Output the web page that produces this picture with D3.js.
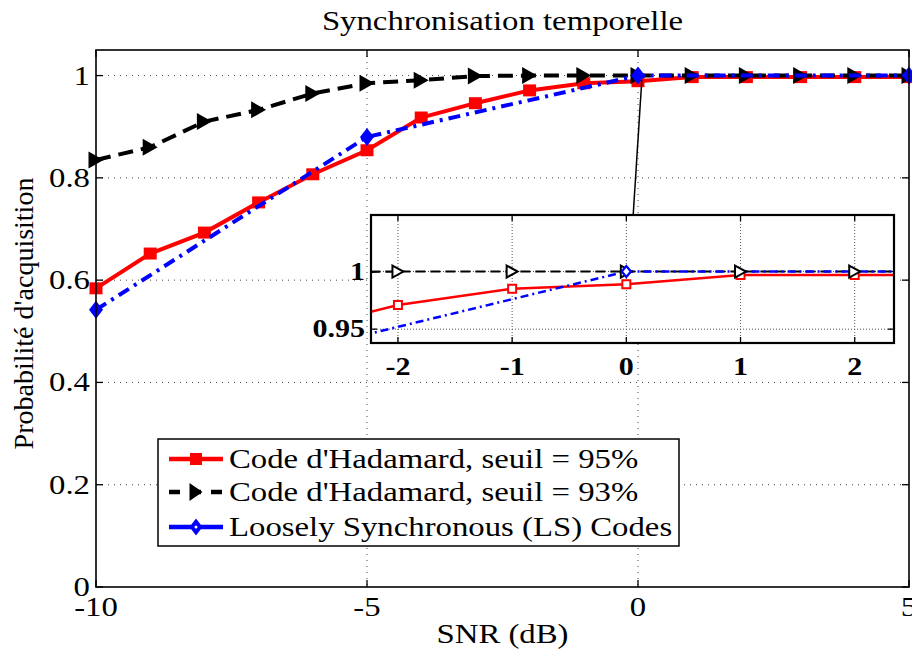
<!DOCTYPE html>
<html><head><meta charset="utf-8">
<script src="https://cdn.jsdelivr.net/npm/d3@7"></script>
<style>
html,body{margin:0;padding:0;background:#fff;}
svg{display:block;}
text{font-family:"Liberation Serif","Times New Roman",serif;fill:#000;}
</style></head>
<body>
<svg id="chart" width="912" height="651"></svg>
<script>
// ---- data ----
const title = "Synchronisation temporelle";
const xLabel = "SNR (dB)";
const yLabel = "Probabilité d'acquisition";
const snr = [-10,-9,-8,-7,-6,-5,-4,-3,-2,-1,0,1,2,3,4,5];
const hadamard95 = [0.584,0.652,0.693,0.752,0.807,0.854,0.918,0.946,0.971,0.985,0.989,0.997,0.997,0.997,0.997,0.997];
const hadamard93 = [0.835,0.860,0.910,0.933,0.965,0.985,0.991,0.999,1,1,1,1,1,1,1,1];
const lsSnr = [-10,-5,0,5];
const lsCodes = [0.542,0.880,1.0,1.0];
const seriesNames = ["Code d'Hadamard, seuil = 95%","Code d'Hadamard, seuil = 93%","Loosely Synchronous (LS) Codes"];
const xTicks = [-10,-5,0,5];
const yTicks = [0,0.2,0.4,0.6,0.8,1];
const insetXTicks = [-2,-1,0,1,2];
const insetYTicks = [0.95,1];
const insetXDomain = [-2.236,2.344];
const insetYDomain = [0.938,1.049];
const connectorMain = [0.07,0.991];   // point in main data coords
const connectorInsetX = 0.06;         // x in inset data coords (top edge)

// ---- layout ----
const svg = d3.select("#chart");
const W = 912, H = 651;
const L = 96, R = 909, T = 50, B = 587;
const x = d3.scaleLinear().domain([-10,5]).range([L,R]);
const y = d3.scaleLinear().domain([0,1.05]).range([B,T]);
const SX = 1.17; // horizontal text stretch
function stretch(sel,k){ sel.each(function(){ const l=this.getComputedTextLength(); d3.select(this).attr("textLength",l*k).attr("lengthAdjust","spacingAndGlyphs");}); }

const cRed="#ff0000", cBlack="#000000", cBlue="#0000ff";

function sqPath(w,h){return `M${-w/2},${-h/2}H${w/2}V${h/2}H${-w/2}Z`;}
function triPath(w,h){return `M${-w/2},${-h/2}L${w/2},0L${-w/2},${h/2}Z`;}
function diaPath(w,h){return `M0,${-h/2}L${w/2},0L0,${h/2}L${-w/2},0Z`;}

svg.append("rect").attr("width",W).attr("height",H).attr("fill","#fff");

// title
svg.append("text").attr("x",(L+R)/2).attr("y",30).attr("text-anchor","middle")
  .attr("font-size",28).text(title).call(stretch,SX);

// grid
const grid = svg.append("g").attr("stroke","#444").attr("stroke-width",1).attr("stroke-dasharray","1,5");
grid.selectAll(".gx").data(xTicks.filter(d=>d>-10&&d<5)).join("line")
  .attr("x1",d=>x(d)).attr("x2",d=>x(d)).attr("y1",T).attr("y2",B);
grid.selectAll(".gy").data(yTicks.filter(d=>d>0)).join("line")
  .attr("x1",L).attr("x2",R).attr("y1",d=>y(d)).attr("y2",d=>y(d));

// ticks (inward, all four sides)
const tk = svg.append("g").attr("stroke","#000").attr("stroke-width",1.3);
xTicks.forEach(d=>{
  tk.append("line").attr("x1",x(d)).attr("x2",x(d)).attr("y1",B).attr("y2",B-7);
  tk.append("line").attr("x1",x(d)).attr("x2",x(d)).attr("y1",T).attr("y2",T+7);
});
yTicks.forEach(d=>{
  tk.append("line").attr("x1",L).attr("x2",L+7).attr("y1",y(d)).attr("y2",y(d));
  tk.append("line").attr("x1",R).attr("x2",R-7).attr("y1",y(d)).attr("y2",y(d));
});

// tick labels
svg.append("g").selectAll("text").data(xTicks).join("text")
  .attr("x",d=>x(d)).attr("y",616).attr("text-anchor","middle").attr("font-size",28)
  .text(d=>d).call(stretch,SX);
svg.append("g").selectAll("text").data(yTicks).join("text")
  .attr("x",90).attr("y",d=>y(d)+9).attr("text-anchor","end").attr("font-size",28)
  .text(d=>d).call(stretch,SX);

// axis labels
svg.append("text").attr("x",(L+R)/2).attr("y",643).attr("text-anchor","middle")
  .attr("font-size",28).text(xLabel).call(stretch,SX);
svg.append("text").attr("transform",`translate(33,${(176+451)/2}) rotate(-90)`)
  .attr("text-anchor","middle").attr("font-size",28).text(yLabel);

// main series
const line = d3.line().x(d=>x(d[0])).y(d=>y(d[1]));
const d95 = snr.map((s,i)=>[s,hadamard95[i]]);
const d93 = snr.map((s,i)=>[s,hadamard93[i]]);
const dLS = lsSnr.map((s,i)=>[s,lsCodes[i]]);

const gm = svg.append("g");
gm.append("path").datum(d95).attr("d",line).attr("fill","none").attr("stroke",cRed).attr("stroke-width",4);
gm.selectAll(".m95").data(d95).join("path").attr("transform",d=>`translate(${x(d[0])},${y(d[1])})`)
  .attr("d",sqPath(13,12)).attr("fill",cRed);
gm.append("path").datum(d93).attr("d",line).attr("fill","none").attr("stroke",cBlack).attr("stroke-width",4).attr("stroke-dasharray","15,8");
gm.selectAll(".m93").data(d93).join("path").attr("transform",d=>`translate(${x(d[0])},${y(d[1])})`)
  .attr("d",triPath(15,17)).attr("fill",cBlack);
gm.append("path").datum(dLS).attr("d",line).attr("fill","none").attr("stroke",cBlue).attr("stroke-width",4).attr("stroke-dasharray","12,6,3,6");
gm.selectAll(".mls").data(dLS).join("path").attr("transform",d=>`translate(${x(d[0])},${y(d[1])})`)
  .attr("d",diaPath(14,18)).attr("fill",cBlue);

// frame
svg.append("rect").attr("x",L).attr("y",T).attr("width",R-L).attr("height",B-T)
  .attr("fill","none").attr("stroke","#000").attr("stroke-width",1.6);

// ---- inset ----
const iL=371, iR=894, iT=215, iB=343;
const xi = d3.scaleLinear().domain(insetXDomain).range([iL,iR]);
const yi = d3.scaleLinear().domain(insetYDomain).range([iB,iT]);
const ins = svg.append("g");
ins.append("rect").attr("x",iL).attr("y",iT).attr("width",iR-iL).attr("height",iB-iT).attr("fill","#fff");
const ig = ins.append("g").attr("stroke","#555").attr("stroke-width",1).attr("stroke-dasharray","1,2");
ig.selectAll(".ix").data(insetXTicks).join("line").attr("x1",d=>xi(d)).attr("x2",d=>xi(d)).attr("y1",iT).attr("y2",iB);
ig.selectAll(".iy").data(insetYTicks).join("line").attr("x1",iL).attr("x2",iR).attr("y1",d=>yi(d)).attr("y2",d=>yi(d));
const itk = ins.append("g").attr("stroke","#000").attr("stroke-width",1.3);
insetXTicks.forEach(d=>{
  itk.append("line").attr("x1",xi(d)).attr("x2",xi(d)).attr("y1",iB).attr("y2",iB-6);
  itk.append("line").attr("x1",xi(d)).attr("x2",xi(d)).attr("y1",iT).attr("y2",iT+6);
});
insetYTicks.forEach(d=>{
  itk.append("line").attr("x1",iL).attr("x2",iL+6).attr("y1",yi(d)).attr("y2",yi(d));
  itk.append("line").attr("x1",iR).attr("x2",iR-6).attr("y1",yi(d)).attr("y2",yi(d));
});
svg.append("defs").append("clipPath").attr("id","insclip").append("rect")
  .attr("x",iL).attr("y",iT).attr("width",iR-iL).attr("height",iB-iT);
const il = d3.line().x(d=>xi(d[0])).y(d=>yi(d[1]));
const ic = ins.append("g").attr("clip-path","url(#insclip)");
ic.append("path").datum(d93).attr("d",il).attr("fill","none").attr("stroke",cBlack).attr("stroke-width",2.2).attr("stroke-dasharray","10,5");
ic.append("path").datum(d95).attr("d",il).attr("fill","none").attr("stroke",cRed).attr("stroke-width",2.5);
ic.append("path").datum(dLS).attr("d",il).attr("fill","none").attr("stroke",cBlue).attr("stroke-width",2.5).attr("stroke-dasharray","8,4,2,4");
ic.selectAll(".i95").data(d95).join("path").attr("transform",d=>`translate(${xi(d[0])},${yi(d[1])})`)
  .attr("d",sqPath(8,8)).attr("fill","#fff").attr("stroke",cRed).attr("stroke-width",2);
ic.selectAll(".i93").data(d93).join("path").attr("transform",d=>`translate(${xi(d[0])},${yi(d[1])})`)
  .attr("d",triPath(11,12)).attr("fill","#fff").attr("stroke",cBlack).attr("stroke-width",2);
ic.selectAll(".ils").data(dLS).join("path").attr("transform",d=>`translate(${xi(d[0])},${yi(d[1])})`)
  .attr("d",diaPath(9,11)).attr("fill","#fff").attr("stroke",cBlue).attr("stroke-width",2.2);
ins.append("rect").attr("x",iL).attr("y",iT).attr("width",iR-iL).attr("height",iB-iT)
  .attr("fill","none").attr("stroke","#000").attr("stroke-width",2.2);
ins.append("g").selectAll("text").data(insetXTicks).join("text")
  .attr("x",d=>xi(d)).attr("y",375).attr("text-anchor","middle").attr("font-size",25).attr("font-weight","bold")
  .text(d=>d).call(stretch,1.2);
ins.append("g").selectAll("text").data(insetYTicks).join("text")
  .attr("x",365).attr("y",d=>yi(d)+8).attr("text-anchor","end").attr("font-size",25).attr("font-weight","bold")
  .text(d=>d).call(stretch,1.2);

// connector
svg.append("line").attr("x1",xi(connectorInsetX)).attr("y1",iT)
  .attr("x2",x(connectorMain[0])).attr("y2",y(connectorMain[1]))
  .attr("stroke","#000").attr("stroke-width",1.5);

// ---- legend ----
const lg = svg.append("g");
lg.append("rect").attr("x",158).attr("y",439).attr("width",521).attr("height",107)
  .attr("fill","#fff").attr("stroke","#000").attr("stroke-width",1.5);
const rows=[459,492,527];
const styles=[
  {c:cRed,dash:null,m:sqPath(12,12),fill:cRed},
  {c:cBlack,dash:"11,10",m:triPath(13,18),fill:cBlack},
  {c:cBlue,dash:null,m:diaPath(13,17),fill:cBlue}
];
seriesNames.forEach((n,i)=>{
  const s=styles[i];
  const ln=lg.append("line").attr("x1",169).attr("x2",223).attr("y1",rows[i]).attr("y2",rows[i])
    .attr("stroke",s.c).attr("stroke-width",4.5);
  if(s.dash) ln.attr("stroke-dasharray",s.dash);
  lg.append("path").attr("transform",`translate(196,${rows[i]})`).attr("d",s.m).attr("fill",s.fill);
  if(i===2) lg.append("circle").attr("cx",196).attr("cy",rows[i]).attr("r",1.5).attr("fill","#fff");
  lg.append("text").attr("x",229).attr("y",rows[i]+9).attr("font-size",28).text(n).call(stretch,SX);
});
</script>
</body></html>
